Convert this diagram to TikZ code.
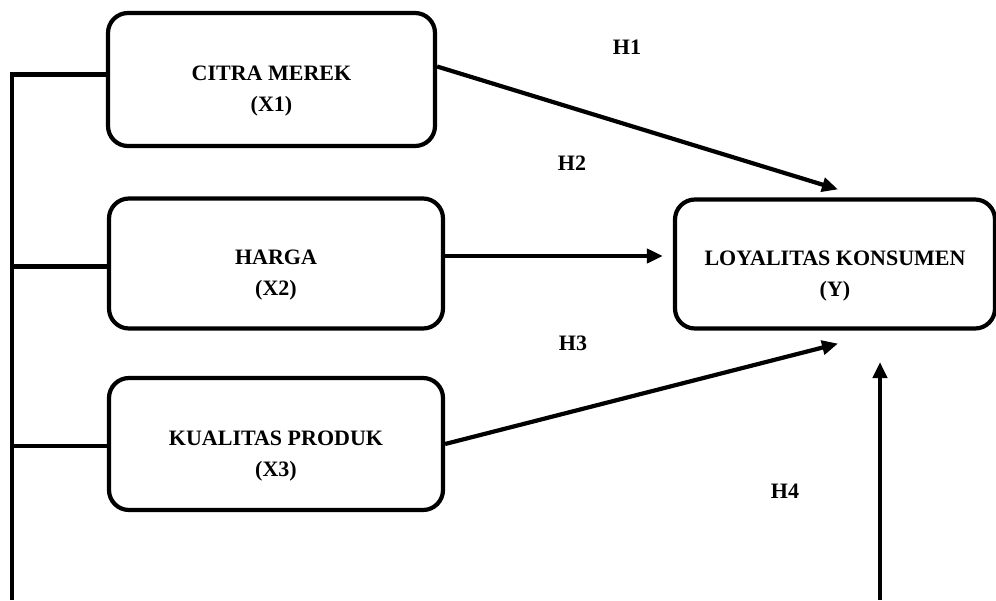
\documentclass[tikz,border=0pt]{standalone}
\usepackage{fontspec}
\setmainfont{Liberation Serif}
\usetikzlibrary{arrows.meta}
\newcommand{\atas}{\rule{0pt}{38pt}}
\tikzset{
  kotak/.style={draw, line width=4.2pt, rounded corners=20pt, align=center,
    font=\fontsize{22}{31}\selectfont\bfseries},
  garis/.style={line width=4.2pt},
  panah/.style={line width=4.2pt, -{Triangle[length=16pt,width=14pt]}},
  hipo/.style={font=\fontsize{22}{26}\selectfont\bfseries}
}
\begin{document}
\begin{tikzpicture}[x=1pt,y=-1pt]
    \useasboundingbox (0,0) rectangle (996,600);

    % Variabel bebas (kiri)
    \node[kotak, minimum width=327pt, minimum height=133pt] (x1) at (271.5,79.5) {\atas CITRA MEREK\\(X1)};
    \node[kotak, minimum width=334pt, minimum height=130pt] (x2) at (276,263.5) {\atas HARGA\\(X2)};
    \node[kotak, minimum width=334pt, minimum height=132pt] (x3) at (276,444) {\atas KUALITAS PRODUK\\(X3)};

    % Variabel terikat (kanan)
    \node[kotak, minimum width=320pt, minimum height=129pt] (ly) at (835,264) {\atas LOYALITAS KONSUMEN\\(Y)};

    % Titik bantu di tepi bawah
    \coordinate (kiri) at (12,600);
    \coordinate (kanan) at (880,600);
    \coordinate (ujung) at (880,362);

    % Garis simultan dari kiri
    \draw[garis] ([yshift=5pt]x1.west) -| (kiri);
    \draw[garis] ([yshift=-3pt]x2.west) -- ([yshift=-3pt]x2.west -| kiri);
    \draw[garis] ([yshift=-2pt]x3.west) -- ([yshift=-2pt]x3.west -| kiri);

    % Panah hipotesis
    \draw[panah] ([yshift=13pt]x1.east) -- ([shift={(3pt,8pt)}]ly.north);
    \draw[panah] ([yshift=7.5pt]x2.east) -- ([shift={(-10pt,8pt)}]ly.west);
    \draw[panah] (x3.east) -- ([shift={(3pt,-13pt)}]ly.south);
    \draw[panah] (kanan) -- (ujung);

    % Label hipotesis
    \node[hipo] (h1) at (627,47) {H1};
    \node[hipo] (h2) at (572,163) {H2};
    \node[hipo] (h3) at (573,343) {H3};
    \node[hipo] (h4) at (785,491) {H4};

\end{tikzpicture}
\end{document}
